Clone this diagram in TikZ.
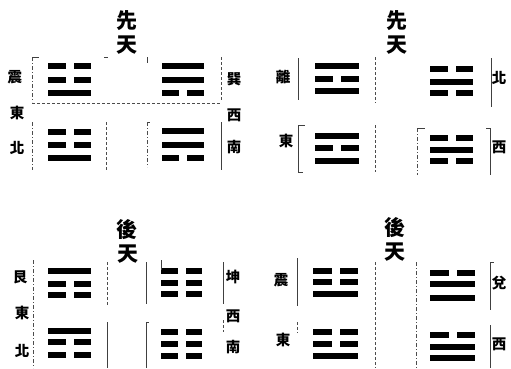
\documentclass[tikz,border=0pt]{standalone}
\usepackage{fontspec}
\newfontfamily\cjk{Noto Sans CJK TC}
\newcommand\YangL[3]{\fill[yaofill] (#1,#3-3) rectangle (#2,#3+3);}
\newcommand\YinL[3]{\fill[yaofill] (#1,#3-3) rectangle ({(#1+#2)/2-4},#3+3);
  \fill[yaofill] ({(#1+#2)/2+4},#3-3) rectangle (#2,#3+3);}
\begin{document}
\begin{tikzpicture}[x=1pt,y=-1pt,
  yaofill/.style={fill=black},
  ttl/.style={font=\cjk\fontsize{21}{21}\selectfont\bfseries, inner sep=0pt},
  lbl/.style={font=\cjk\fontsize{14.5}{14.5}\selectfont\bfseries, inner sep=0pt},
  frame/.style={draw=black!75, line width=0.6pt},
  dframe/.style={draw=black!70, line width=0.6pt, dash pattern=on 3pt off 2pt},
  ddframe/.style={draw=black!70, line width=0.6pt, dash pattern=on 4pt off 2pt on 1pt off 2pt}]
\useasboundingbox (0,0) rectangle (511,368);
\fill[white] (0,0) rectangle (511,368);

% ---------- panel 1 ----------
\node[ttl] (t1a) at (127,21) {先};
\node[ttl] (t1b) at (127,45) {天};
\node[lbl] (l1a) at (15,77) {震};
\node[lbl] (l1b) at (17,113) {東};
\node[lbl] (l1c) at (17,148) {北};
\node[lbl] (r1a) at (234,79) {巽};
\node[lbl] (r1b) at (234,115) {西};
\node[lbl] (r1c) at (234,147) {南};
\YinL{48}{91}{66}\YinL{48}{91}{79.5}\YangL{48}{91}{92.5}
\YinL{48}{91}{131.5}\YinL{48}{91}{145}\YangL{48}{91}{158}
\YangL{162}{204}{66}\YangL{162}{204}{80}\YinL{162}{204}{92.5}
\YangL{162}{204}{131}\YangL{162}{204}{145}\YinL{162}{204}{158}
\draw[ddframe] (32,57)--(32,102) (32,122)--(32,170);
\draw[frame] (32,57)--(39,57) (104,57)--(108,57);
\draw[dframe] (32,103)--(220,103);
\draw[dframe] (106,122)--(106,170);
\draw[frame] (147,57)--(147,63) (147,122)--(150,122);
\draw[ddframe] (147,122)--(147,167);
\draw[dframe] (221,57)--(221,100);
\draw[frame] (221,122)--(221,170);

% ---------- panel 2 ----------
\node[ttl] (t2a) at (397,21) {先};
\node[ttl] (t2b) at (397,45) {天};
\node[lbl] (l2a) at (283,77) {離};
\node[lbl] (l2b) at (286,141) {東};
\node[lbl] (r2a) at (499,78) {北};
\node[lbl] (r2b) at (499,147) {西};
\YangL{315}{359}{66}\YinL{315}{359}{79}\YangL{315}{359}{91}
\YangL{315}{359}{135.5}\YinL{315}{359}{148}\YangL{315}{359}{160.5}
\YinL{430}{473}{69}\YangL{430}{473}{81.5}\YinL{430}{473}{92.5}
\YinL{430}{473}{138}\YangL{430}{473}{150}\YinL{430}{473}{161}
\draw[frame] (298,58)--(298,100) (298,125)--(298,172) (298,125)--(305,125) (298,172)--(303,172);
\draw[dframe] (375,57)--(375,103) (375,125)--(375,172);
\draw[ddframe] (417,128)--(417,175);
\draw[frame] (417,128)--(425,128);
\draw[frame] (491,58)--(491,107) (490,128)--(490,175) (486,128)--(490,128);

% ---------- panel 3 ----------
\node[ttl] (t3a) at (127,230) {後};
\node[ttl] (t3b) at (128,254) {天};
\node[lbl] (l3a) at (20,277) {艮};
\node[lbl] (l3b) at (22,313) {東};
\node[lbl] (l3c) at (22,351) {北};
\node[lbl] (r3a) at (233,277) {坤};
\node[lbl] (r3b) at (233,316) {西};
\node[lbl] (r3c) at (233,347) {南};
\YangL{48}{91}{271}\YinL{48}{91}{284}\YinL{48}{91}{294.5}
\YangL{48}{91}{331}\YinL{48}{91}{342}\YinL{48}{91}{355}
\YinL{161}{202}{271}\YinL{161}{202}{283}\YinL{161}{202}{294}
\YinL{161}{202}{332}\YinL{161}{202}{344}\YinL{161}{202}{356}
\draw[ddframe] (33,260)--(33,368);
\draw[dframe] (107,262)--(107,305);
\draw[frame] (107,322)--(107,368);
\draw[frame] (146,262)--(146,304) (146,322)--(146,368) (146,322)--(149,322);
\draw[frame] (161,260)--(161,270);
\draw[frame] (223,262)--(223,304);
\draw[dframe] (223,320)--(223,332);

% ---------- panel 4 ----------
\node[ttl] (t4a) at (395,228) {後};
\node[ttl] (t4b) at (395,252) {天};
\node[lbl] (l4a) at (281,280) {震};
\node[lbl] (l4b) at (283,340) {東};
\node[lbl] (r4a) at (499,283) {兌};
\node[lbl] (r4b) at (499,344) {西};
\YinL{313}{358}{271}\YinL{313}{358}{282}\YangL{313}{358}{293.5}
\YinL{313}{358}{332}\YinL{313}{358}{343.5}\YangL{313}{358}{356}
\YinL{430}{475}{273}\YangL{430}{475}{284}\YangL{430}{475}{297.5}
\YinL{430}{475}{335}\YangL{430}{475}{346.5}\YangL{430}{475}{358}
\draw[frame] (297,258)--(297,306);
\draw[dframe] (297,322)--(297,333);
\draw[dframe] (375,262)--(375,368);
\draw[ddframe] (416,262)--(416,368);
\draw[frame] (490,262)--(490,310) (490,325)--(490,368) (490,262)--(494,262);
\end{tikzpicture}
\end{document}
